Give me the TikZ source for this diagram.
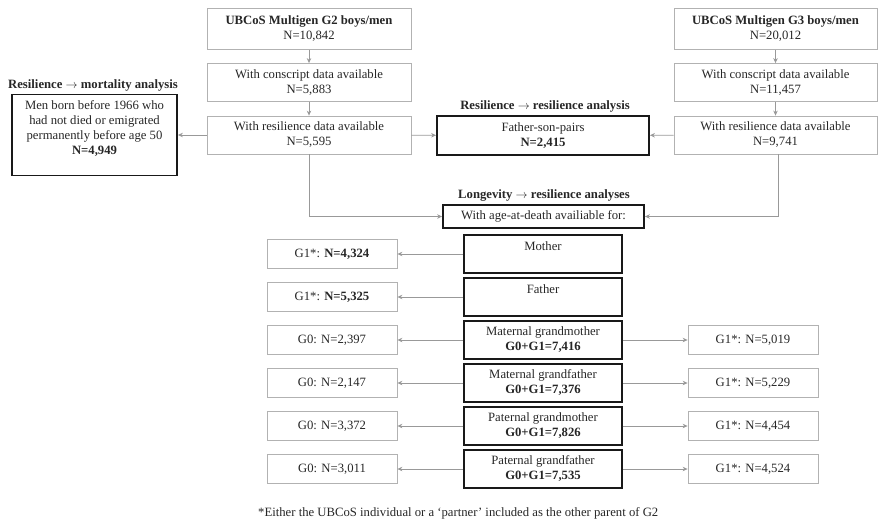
\documentclass[tikz,border=0pt]{standalone}
\usepackage{fontspec}
\setmainfont{Liberation Serif}
\usetikzlibrary{arrows.meta}
\begin{document}
\begin{tikzpicture}[x=1pt, y=-1pt,
    every node/.style={font=\fontsize{12.7}{15}\selectfont, text=black!85, align=center, inner sep=0pt},
    box/.style={draw=black!30, line width=0.8pt},
    key/.style={draw=black!90, line width=1.8pt},
    head/.style={font=\fontsize{12.7}{15}\selectfont\bfseries},
    link/.style={draw=black!40, line width=0.8pt, -{Stealth[length=5pt, width=4.5pt]}},
    every edge/.style={link}]
      \useasboundingbox (0,0) rectangle (878,522);
      \node (1) at (309,29) [box, minimum width=204, minimum height=41] {\textbf{UBCoS Multigen G2 boys/men}\\N=10,842};
      \node (2) at (309,82.5) [box, minimum width=204, minimum height=38] {With conscript data available\\N=5,883};
      \node (3) at (309,135) [box, minimum width=204, minimum height=38] {With resilience data available\\N=5,595};
      \node (4) at (775.5,29) [box, minimum width=203, minimum height=41] {\textbf{UBCoS Multigen G3 boys/men}\\N=20,012};
      \node (5) at (775.5,82.5) [box, minimum width=203, minimum height=38] {With conscript data available\\N=11,457};
      \node (6) at (775.5,135) [box, minimum width=203, minimum height=38] {With resilience data available\\N=9,741};
      \node (7) at (94.5,135) [key, minimum width=165, minimum height=81] {Men born before 1966 who\\had not died or emigrated\\permanently before age 50\\\textbf{N=4,949}\\\mbox{}};
      \node (8) at (543,135.5) [key, minimum width=212, minimum height=39] {Father-son-pairs\\\textbf{N=2,415}};
      \node (9) at (543.5,216.5) [key, minimum width=201, minimum height=23] {With age-at-death availiable for:};
      \node (10) at (93,85) [head] {Resilience $\rightarrow$ mortality analysis};
      \node (11) at (545,106) [head] {Resilience $\rightarrow$ resilience analysis};
      \node (12) at (544,195) [head] {Longevity $\rightarrow$ resilience analyses};
      \node (13) at (543,254) [key, minimum width=158, minimum height=38] {Mother\\\mbox{}};
      \node (14) at (543,297) [key, minimum width=158, minimum height=38] {Father\\\mbox{}};
      \node (15) at (543,340) [key, minimum width=158, minimum height=38] {Maternal grandmother\\\textbf{G0+G1=7,416}};
      \node (16) at (543,383) [key, minimum width=158, minimum height=38] {Maternal grandfather\\\textbf{G0+G1=7,376}};
      \node (17) at (543,426) [key, minimum width=158, minimum height=38] {Paternal grandmother\\\textbf{G0+G1=7,826}};
      \node (18) at (543,469) [key, minimum width=158, minimum height=38] {Paternal grandfather\\\textbf{G0+G1=7,535}};
      \node (19) at (332,254) [box, minimum width=130, minimum height=29] {G1*: \textbf{N=4,324}};
      \node (20) at (332,297) [box, minimum width=130, minimum height=29] {G1*: \textbf{N=5,325}};
      \node (21) at (332,340) [box, minimum width=130, minimum height=29] {G0: N=2,397};
      \node (22) at (332,383) [box, minimum width=130, minimum height=29] {G0: N=2,147};
      \node (23) at (332,426) [box, minimum width=130, minimum height=29] {G0: N=3,372};
      \node (24) at (332,469) [box, minimum width=130, minimum height=29] {G0: N=3,011};
      \node (25) at (753,340) [box, minimum width=130, minimum height=29] {G1*: N=5,019};
      \node (26) at (753,383) [box, minimum width=130, minimum height=29] {G1*: N=5,229};
      \node (27) at (753,426) [box, minimum width=130, minimum height=29] {G1*: N=4,454};
      \node (28) at (753,469) [box, minimum width=130, minimum height=29] {G1*: N=4,524};
      \node (29) at (258,513) [anchor=west] {*Either the UBCoS individual or a ‘partner’ included as the other parent of G2};
      \foreach \source/\dest in {1/2, 2/3, 4/5, 5/6, 3/7, 3/8, 6/8, 13/19, 14/20, 15/21, 16/22, 17/23, 18/24, 15/25, 16/26, 17/27, 18/28}
        \path (\source) edge (\dest);
      \draw [link] (3.south) |- (9);
      \draw [link] ([xshift=3]6.south) |- (9);
    \end{tikzpicture}
\end{document}
